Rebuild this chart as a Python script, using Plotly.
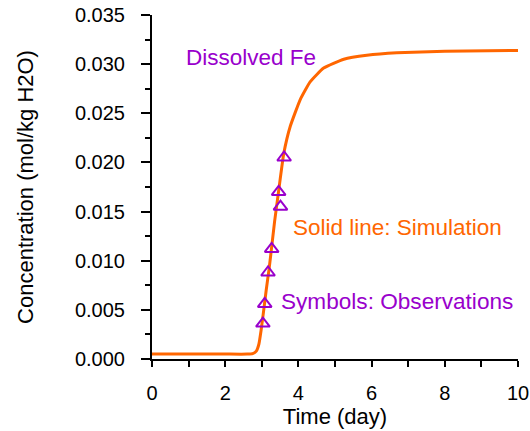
import plotly.graph_objects as go

# Simulation curve (dissolved Fe)
sim_time = [0, 1.0, 2.0, 2.6, 2.75, 2.85, 2.92, 2.98, 3.05, 3.12, 3.2, 3.27, 3.35, 3.46,
            3.6, 3.78, 4.05, 4.32, 4.69, 5.24, 5.87, 6.69, 8.0, 10.0]
sim_conc = [0.0005, 0.0005, 0.0005, 0.0005, 0.00055, 0.0008, 0.0015, 0.0029, 0.0049,
            0.0070, 0.0092, 0.0114, 0.0140, 0.0171, 0.0209, 0.0237, 0.0264, 0.0282,
            0.0296, 0.0305, 0.0309, 0.03115, 0.0313, 0.0314]

# Observations
obs_time = [3.03, 3.08, 3.17, 3.27, 3.51, 3.46, 3.61]
obs_conc = [0.0036, 0.0056, 0.0088, 0.0112, 0.0155, 0.0170, 0.0205]

x_tickvals = [0, 2, 4, 6, 8, 10]
y_tickvals = [0, 0.005, 0.010, 0.015, 0.020, 0.025, 0.030, 0.035]

ORANGE = "#FF6600"
PURPLE = "#9900CC"
FONT = "Liberation Sans, Arial, sans-serif"

fig = go.Figure()
fig.add_trace(go.Scatter(x=sim_time, y=sim_conc, mode="lines",
                         line=dict(color=ORANGE, width=3, shape="spline", smoothing=0.4),
                         showlegend=False, hoverinfo="skip"))
fig.add_trace(go.Scatter(x=obs_time, y=obs_conc, mode="markers",
                         marker=dict(symbol="triangle-up-open", size=12,
                                     color=PURPLE, line=dict(width=2, color=PURPLE)),
                         showlegend=False))

fig.update_layout(
    width=530, height=431,
    margin=dict(l=152, r=12, t=15, b=72, pad=0, autoexpand=False),
    plot_bgcolor="white", paper_bgcolor="white",
    font=dict(family=FONT, color="black", size=20),
    xaxis=dict(range=[0, 10], tickvals=x_tickvals, showline=True, linecolor="black",
               linewidth=2, ticks="outside", ticklen=6, tickwidth=2, tickcolor="black",
               minor=dict(dtick=1, ticks="outside", ticklen=6, tickwidth=2, tickcolor="black"),
               showgrid=False, zeroline=False, ticklabelstandoff=9, automargin=False,
               tickfont=dict(size=20),
               title=dict(text="Time (day)", font=dict(size=22), standoff=6)),
    yaxis=dict(range=[0, 0.035], tickvals=y_tickvals, tickformat=".3f", showline=True,
               linecolor="black", linewidth=2, ticks="outside", ticklen=9, tickwidth=2,
               tickcolor="black", automargin=False,
               minor=dict(dtick=0.0025, ticks="outside", ticklen=5, tickwidth=2, tickcolor="black"),
               showgrid=False, zeroline=False, ticklabelstandoff=12,
               tickfont=dict(size=20),
               title=dict(text="Concentration (mol/kg H2O)", font=dict(size=22), standoff=35)),
    annotations=[
        dict(x=0.90, y=0.03066, xref="x", yref="y", text="Dissolved Fe", showarrow=False,
             xanchor="left", yanchor="middle", font=dict(size=22.5, color=PURPLE), borderpad=0),
        dict(x=3.83, y=0.01339, xref="x", yref="y", text="Solid line: Simulation", showarrow=False,
             xanchor="left", yanchor="middle", font=dict(size=22.5, color=ORANGE), borderpad=0),
        dict(x=3.51, y=0.0058, xref="x", yref="y", text="Symbols: Observations", showarrow=False,
             xanchor="left", yanchor="middle", font=dict(size=22.6, color=PURPLE), borderpad=0),
    ],
)

fig.write_html("out.html", config={"displayModeBar": False},
               post_script="document.body.style.margin='0';document.body.style.overflow='hidden';")
